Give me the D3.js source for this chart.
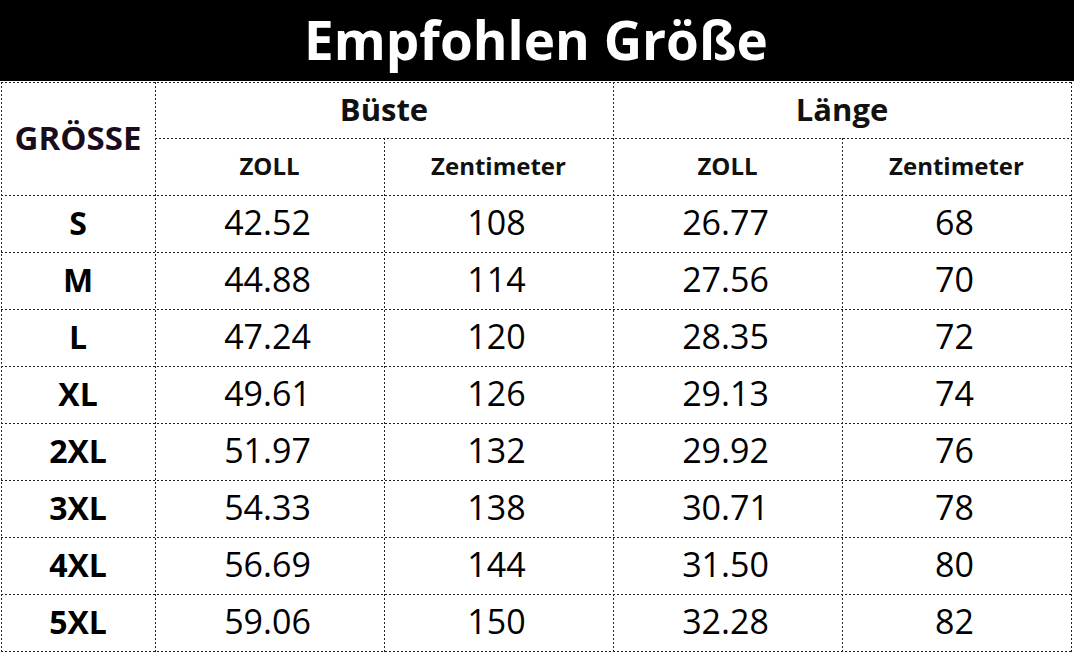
<!DOCTYPE html>
<html>
<head>
<meta charset="utf-8">
<script src="https://cdn.jsdelivr.net/npm/d3@7"></script>
<style>
  body { margin: 0; background: #fff; }
  svg { display: block; }
</style>
</head>
<body>
<div class="chart"></div>
<script>
var title = "Empfohlen Größe";
var sizes = ["S", "M", "L", "XL", "2XL", "3XL", "4XL", "5XL"];
var groups = ["Büste", "Länge"];
var units = ["ZOLL", "Zentimeter", "ZOLL", "Zentimeter"];
var busteZoll = ["42.52", "44.88", "47.24", "49.61", "51.97", "54.33", "56.69", "59.06"];
var busteCm = [108, 114, 120, 126, 132, 138, 144, 150];
var laengeZoll = ["26.77", "27.56", "28.35", "29.13", "29.92", "30.71", "31.50", "32.28"];
var laengeCm = [68, 70, 72, 74, 76, 78, 80, 82];

var svgWidth = 1074;
var svgHeight = 653;
var font = "'Open Sans', 'Noto Sans', sans-serif";

var svg = d3.select(".chart")
  .append("svg")
  .attr("width", svgWidth)
  .attr("height", svgHeight);

// title bar
svg.append("rect")
  .attr("x", 0).attr("y", 0)
  .attr("width", svgWidth).attr("height", 81)
  .attr("fill", "#000");

svg.append("text")
  .attr("x", 536).attr("y", 60)
  .attr("text-anchor", "middle")
  .attr("font-family", font)
  .attr("font-weight", 700)
  .attr("font-size", 53)
  .attr("fill", "#fff")
  .text(title);

// scales
var left = 1, right = 1071, sizeCol = 155;
var x = d3.scaleBand()
  .domain(d3.range(units.length))
  .range([sizeCol, right]);
var xg = d3.scaleBand()
  .domain(groups)
  .range([sizeCol, right]);
var y = d3.scaleBand()
  .domain(sizes)
  .range([195, 651]);
var headTop = 82, headMid = 138;

var columns = [busteZoll, busteCm, laengeZoll, laengeCm];

// grid lines
var grid = svg.append("g")
  .attr("stroke", "#222")
  .attr("stroke-width", 1)
  .attr("stroke-dasharray", "2,2")
  .attr("shape-rendering", "crispEdges");

var hLines = [headTop, y.range()[0]].concat(sizes.map(d => y(d) + y.bandwidth()));
grid.selectAll("line.h")
  .data(hLines)
  .enter()
  .append("line")
  .attr("x1", left).attr("x2", right)
  .attr("y1", d => d + 0.5).attr("y2", d => d + 0.5);

grid.append("line")
  .attr("x1", sizeCol).attr("x2", right)
  .attr("y1", headMid + 0.5).attr("y2", headMid + 0.5);

var vLines = [left, sizeCol, xg("Länge"), right];
grid.selectAll("line.v")
  .data(vLines)
  .enter()
  .append("line")
  .attr("x1", d => d + 0.5).attr("x2", d => d + 0.5)
  .attr("y1", headTop).attr("y2", 652);

grid.selectAll("line.vu")
  .data([1, 3])
  .enter()
  .append("line")
  .attr("x1", d => x(d) + 0.5).attr("x2", d => x(d) + 0.5)
  .attr("y1", headMid).attr("y2", 652);

// header
svg.append("text")
  .attr("x", (left + sizeCol) / 2).attr("y", 138)
  .attr("dy", "0.35em")
  .attr("text-anchor", "middle")
  .attr("font-family", font)
  .attr("font-weight", 700)
  .attr("font-size", 33)
  .attr("fill", "#1a0c1c")
  .text("GRÖSSE");

svg.selectAll("text.group")
  .data(groups)
  .enter()
  .append("text")
  .attr("x", d => xg(d) + xg.bandwidth() / 2)
  .attr("y", (headTop + headMid) / 2)
  .attr("dy", "0.35em")
  .attr("text-anchor", "middle")
  .attr("font-family", font)
  .attr("font-weight", 700)
  .attr("font-size", 31)
  .attr("fill", "#111")
  .text(d => d);

svg.selectAll("text.unit")
  .data(units)
  .enter()
  .append("text")
  .attr("x", (d, i) => x(i) + x.bandwidth() / 2)
  .attr("y", (headMid + 195) / 2)
  .attr("dy", "0.35em")
  .attr("text-anchor", "middle")
  .attr("font-family", font)
  .attr("font-weight", 700)
  .attr("font-size", 24)
  .attr("fill", "#111")
  .text(d => d);

// body
svg.selectAll("text.size")
  .data(sizes)
  .enter()
  .append("text")
  .attr("x", (left + sizeCol) / 2)
  .attr("y", d => y(d) + y.bandwidth() / 2)
  .attr("dy", "0.35em")
  .attr("text-anchor", "middle")
  .attr("font-family", font)
  .attr("font-weight", 700)
  .attr("font-size", 32)
  .attr("fill", "#000")
  .text(d => d);

columns.forEach(function (col, i) {
  svg.selectAll("text.c" + i)
    .data(col)
    .enter()
    .append("text")
    .attr("x", x(i) + x.bandwidth() / 2 - 2)
    .attr("y", (d, j) => y(sizes[j]) + y.bandwidth() / 2)
    .attr("dy", "0.35em")
    .attr("text-anchor", "middle")
    .attr("font-family", font)
    .attr("font-size", 34)
    .attr("fill", "#000")
    .text(d => d);
});
</script>
</body>
</html>
